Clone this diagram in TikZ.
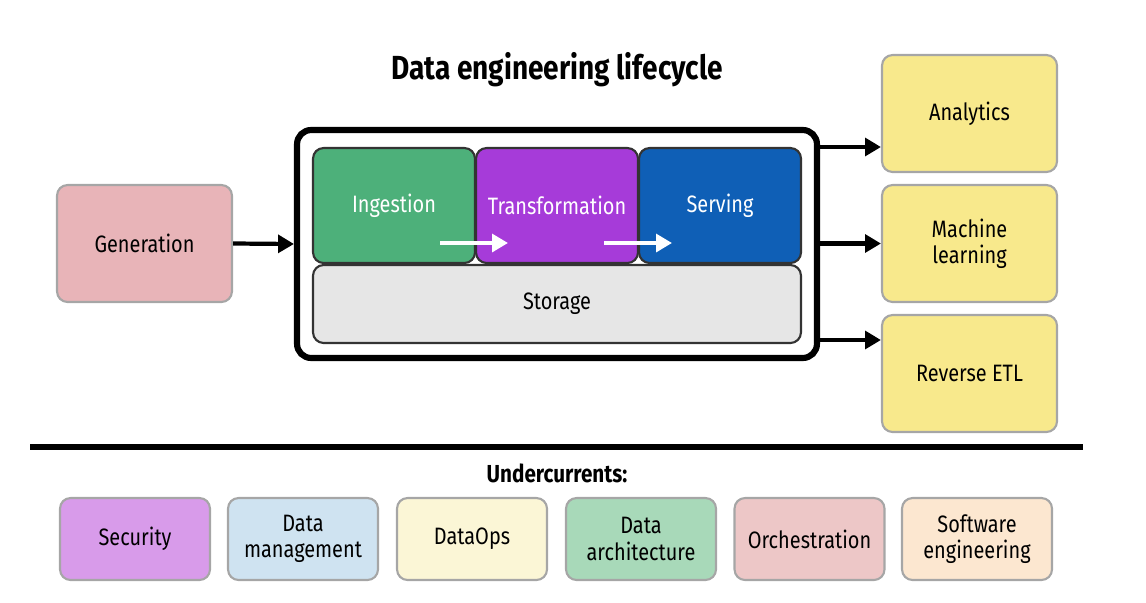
\documentclass[tikz,border=0pt]{standalone}
\usepackage{fontspec}
\setmainfont{Fira Sans}[FakeStretch=0.84]
\usetikzlibrary{arrows.meta}
\definecolor{genpink}{HTML}{E8B4B8}
\definecolor{ingreen}{HTML}{4DB07A}
\definecolor{trpurple}{HTML}{A63BD9}
\definecolor{seblue}{HTML}{0F5FB6}
\definecolor{stgray}{HTML}{E6E6E6}
\definecolor{outyellow}{HTML}{F8E98C}
\definecolor{secpurple}{HTML}{D89BEA}
\definecolor{mgmtblue}{HTML}{CFE3F1}
\definecolor{opscream}{HTML}{FBF6D6}
\definecolor{archgreen}{HTML}{A8D9B9}
\definecolor{orchpink}{HTML}{EDC7C7}
\definecolor{swpeach}{HTML}{FCE7D0}
\tikzset{
  box/.style={draw=gray!70, line width=1.2pt, rounded corners=6pt, align=center, font=\fontsize{13.5}{15}\selectfont, inner sep=0pt},
  stage/.style={draw=black!80, line width=1.2pt, rounded corners=6pt, text=white, font=\fontsize{13.5}{15}\selectfont, minimum width=3.24cm, minimum height=2.3cm, inner sep=0pt},
  flow/.style={-{Triangle[length=9pt,width=10pt]}, line width=2.4pt},
}
\begin{document}
\begin{tikzpicture}[x=0.02cm,y=-0.02cm]
\useasboundingbox (0,0) rectangle (1146,602);
% \draw (0,0) grid (1146,602);
\node[font=\fontsize{19}{22}\selectfont\bfseries] (title) at (557,70) {Data engineering lifecycle};
\node[box, fill=genpink, minimum width=3.5cm, minimum height=2.34cm] (gen) at (144.5,243.5) {Generation};
\node[draw, line width=3.5pt, rounded corners=8pt, minimum width=10.4cm, minimum height=4.56cm] (life) at (557,244) {};
\node[stage, fill=ingreen] (ing) at (394,205.5) {Ingestion};
\node[stage, fill=trpurple] (tra) at (557,205.5) {Transformation};
\node[stage, fill=seblue] (ser) at (720,205.5) {Serving};
\node[stage, fill=stgray, text=black, minimum width=9.76cm, minimum height=1.56cm] (sto) at (557,304) {Storage};
\coordinate (w1) at (440,243); \coordinate (w2) at (508,243);
\coordinate (w3) at (604,243); \coordinate (w4) at (672,243);
\draw[flow, white] (w1) -- (w2);
\draw[flow, white] (w3) -- (w4);
\node[box, fill=outyellow, minimum width=3.5cm, minimum height=2.34cm] (ana) at (969.5,113.5) {Analytics};
\node[box, fill=outyellow, minimum width=3.5cm, minimum height=2.34cm] (ml) at (969.5,243.5) {Machine\\learning};
\node[box, fill=outyellow, minimum width=3.5cm, minimum height=2.34cm] (etl) at (969.5,373.5) {Reverse ETL};
\draw[flow] (gen.east) -- (life.west);
\draw[flow] (life.east |- 0,147) -- (ana.west |- 0,147);
\draw[flow] (life.east |- ml.west) -- (ml.west);
\draw[flow] (life.east |- 0,340) -- (etl.west |- 0,340);
\coordinate (l1) at (30,447); \coordinate (l2) at (1083,447);
\draw[line width=3pt] (l1) -- (l2);
\node[font=\fontsize{14}{17}\selectfont\bfseries] (under) at (557,473) {Undercurrents:};
\foreach \n/\x/\c/\t in {sec/135/secpurple/Security, mgmt/303/mgmtblue/Data\\management, ops/472/opscream/DataOps, arch/641/archgreen/Data\\architecture, orch/809.5/orchpink/Orchestration, sw/977/swpeach/Software\\engineering}
  \node[box, fill=\c, minimum width=3cm, minimum height=1.64cm] (\n) at (\x,539) {\t};
\end{tikzpicture}
\end{document}
